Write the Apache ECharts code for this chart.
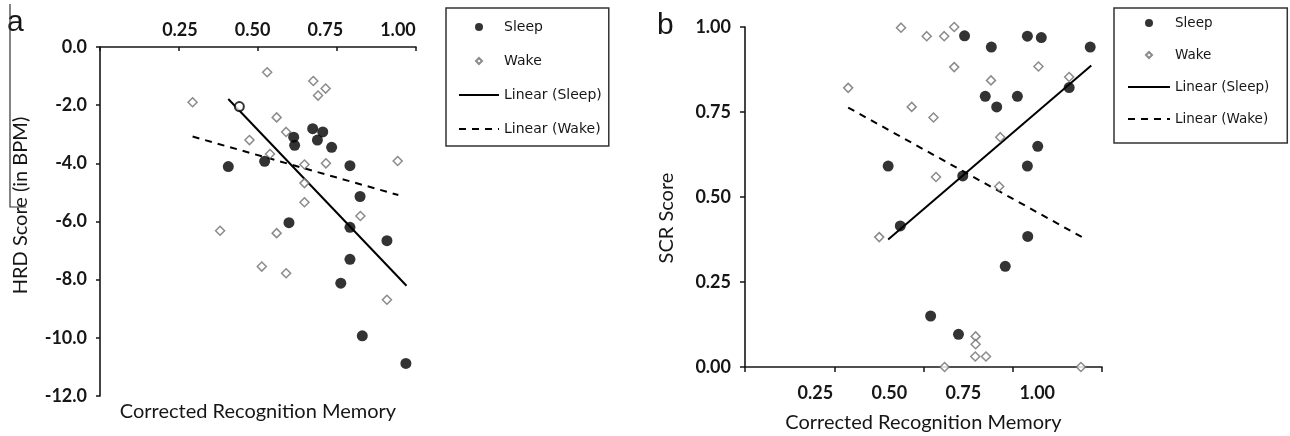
<!DOCTYPE html>
<html>
<head>
<meta charset="utf-8">
<script src="https://cdn.jsdelivr.net/npm/echarts@6/dist/echarts.min.js"></script>
<style>
  html, body { margin: 0; padding: 0; background: #fff; }
  #chart { width: 1290px; height: 436px; }
</style>
</head>
<body>
<div id="chart"></div>
<script>
// Panel a: corrected recognition memory vs HRD score
const sleepA = [
    [0.406, -4.11], [0.521, -3.93], [0.613, -3.10], [0.616, -3.38], [0.673, -2.81],
    [0.705, -2.92], [0.688, -3.20], [0.733, -3.45], [0.791, -4.08], [0.823, -5.14],
    [0.598, -6.04], [0.791, -6.20], [0.908, -6.66], [0.791, -7.30], [0.762, -8.12],
    [0.830, -9.93], [0.968, -10.88]
];
const openA = [[0.441, -2.05]];
const wakeA = [
    [0.293, -1.90], [0.529, -0.87], [0.675, -1.17], [0.714, -1.43], [0.690, -1.67],
    [0.559, -2.42], [0.589, -2.92], [0.473, -3.20], [0.538, -3.68], [0.647, -4.04],
    [0.715, -4.00], [0.942, -3.92], [0.647, -4.68], [0.647, -5.34], [0.824, -5.81],
    [0.380, -6.32], [0.559, -6.40], [0.512, -7.55], [0.589, -7.78], [0.908, -8.69]
];
const sleepFitA = [[0.406, -1.79], [0.970, -8.21]];
const wakeFitA = [[0.293, -3.08], [0.944, -5.09]];

// Panel b: corrected recognition memory vs SCR score
const sleepB = [
    [0.401, 0.591], [0.615, 0.974], [0.690, 0.941], [0.791, 0.973], [0.830, 0.969],
    [0.967, 0.941], [0.908, 0.822], [0.673, 0.796], [0.705, 0.765], [0.763, 0.796],
    [0.820, 0.649], [0.791, 0.591], [0.610, 0.562], [0.435, 0.415], [0.792, 0.384],
    [0.729, 0.296], [0.520, 0.150], [0.598, 0.096]
];
const wakeB = [
    [0.289, 0.821], [0.437, 0.998], [0.509, 0.973], [0.558, 0.973], [0.586, 1.000],
    [0.586, 0.882], [0.689, 0.843], [0.822, 0.884], [0.908, 0.853], [0.467, 0.765],
    [0.528, 0.734], [0.715, 0.676], [0.535, 0.559], [0.712, 0.531], [0.376, 0.382],
    [0.646, 0.090], [0.646, 0.067], [0.645, 0.031], [0.675, 0.031], [0.559, 0.000],
    [0.941, 0.000]
];
const sleepFitB = [[0.401, 0.375], [0.970, 0.887]];
const wakeFitB = [[0.289, 0.763], [0.944, 0.382]];

// tick labels as printed (they sit off the tick marks in the original figure)
const xLabelValues = [0.25, 0.5, 0.75, 1.0];
const legendNames = ['Sleep', 'Wake', 'Linear (Sleep)', 'Linear (Wake)'];

const ink = '#161616';
const labelFont = 'Lato';
const tickLabel = {color: ink, fontFamily: labelFont, fontWeight: 'bold', fontSize: 18};
const axisLine = {show: true, onZero: false, lineStyle: {color: ink, width: 1.6}};

const chart = echarts.init(document.getElementById('chart'));

function sleepSeries(data, idx) {
    return {
        name: 'Sleep', type: 'scatter', data,
        xAxisIndex: idx * 2, yAxisIndex: idx,
        symbol: 'circle', symbolSize: 11,
        itemStyle: {color: '#000'}, z: 4
    };
}
function wakeSeries(data, idx) {
    return {
        name: 'Wake', type: 'scatter', data,
        xAxisIndex: idx * 2, yAxisIndex: idx,
        symbol: 'diamond', symbolSize: 9,
        itemStyle: {color: '#fff', borderColor: '#6e6e6e', borderWidth: 1.5}, z: 3
    };
}
function fitSeries(name, data, idx, dashed) {
    return {
        name, type: 'line', data,
        xAxisIndex: idx * 2, yAxisIndex: idx,
        symbol: 'none', silent: true,
        itemStyle: {color: '#000', opacity: 0},
        lineStyle: {color: '#000', width: 2, type: dashed ? [7, 6] : 'solid'}, z: 2
    };
}

// legend entries: small diamond inside a full-width box so it is not stretched,
// trend lines show only their line
const smallDiamond = 'path://M0,0L0,0M40,8L40,8M20,1L23,4L20,7L17,4Z';
const legendData = legendNames.map(name => {
    if (name.startsWith('Linear')) return {name, itemStyle: {opacity: 0}};
    if (name === 'Wake') return {name, icon: smallDiamond};
    return {name, icon: 'circle'};
});

const legendBase = {
    orient: 'vertical',
    data: legendData,
    itemHeight: 8,
    symbolKeepAspect: true,
    borderColor: '#333',
    borderWidth: 1.5,
    selectedMode: false
};

chart.setOption({
    animation: false,
    backgroundColor: '#fff',
    grid: [
        {left: 100, top: 47, width: 316, height: 349, outerBoundsMode: 'none'},
        {left: 745, top: 27, width: 357, height: 340, outerBoundsMode: 'none'}
    ],
    legend: [
        Object.assign({}, legendBase, {
            left: 446, top: 8, itemWidth: 40, itemGap: 20,
            padding: [12, 7, 10, 12],
            textStyle: {color: ink, fontFamily: 'DejaVu Sans', fontSize: 14}
        }),
        Object.assign({}, legendBase, {
            left: 1114, top: 8, itemWidth: 42, itemGap: 18,
            padding: [8, 18, 17, 13],
            textStyle: {color: ink, fontFamily: 'DejaVu Sans', fontSize: 13.5}
        })
    ],
    xAxis: [
        // panel a: ticks on top
        {
            gridIndex: 0, type: 'value', position: 'top', min: 0, max: 1, interval: 0.25,
            axisLine, axisTick: {inside: true, length: 4, lineStyle: {color: ink, width: 1.5}},
            axisLabel: {show: false}, splitLine: {show: false}
        },
        {
            gridIndex: 0, type: 'value', position: 'top', min: -0.025, max: 1.062,
            axisLine: {show: false}, axisTick: {show: false}, splitLine: {show: false},
            axisLabel: Object.assign({customValues: xLabelValues, margin: 8,
                formatter: v => v.toFixed(2)}, tickLabel)
        },
        // panel b: ticks at bottom
        {
            gridIndex: 1, type: 'value', position: 'bottom', min: 0, max: 1, interval: 0.25,
            axisLine, axisTick: {length: 5, lineStyle: {color: ink, width: 1.5}},
            axisLabel: {show: false}, splitLine: {show: false}
        },
        {
            gridIndex: 1, type: 'value', position: 'bottom', min: 0.012, max: 1.219,
            axisLine: {show: false}, axisTick: {show: false}, splitLine: {show: false},
            axisLabel: Object.assign({customValues: xLabelValues, margin: 17,
                formatter: v => v.toFixed(2)}, tickLabel),
            name: 'Corrected Recognition Memory', nameLocation: 'middle', nameGap: 46,
            nameTextStyle: {color: ink, fontFamily: labelFont, fontSize: 20}
        }
    ],
    yAxis: [
        {
            gridIndex: 0, type: 'value', min: -12, max: 0, interval: 2,
            axisLine, axisTick: {length: 4, lineStyle: {color: ink, width: 1.5}},
            axisLabel: Object.assign({margin: 13, formatter: v => v.toFixed(1)}, tickLabel),
            splitLine: {show: false},
            name: 'HRD Score (in BPM)', nameLocation: 'middle', nameGap: 69, nameRotate: 90,
            nameTextStyle: {color: ink, fontFamily: labelFont, fontSize: 20, padding: [0, 0, 0, 32]}
        },
        {
            gridIndex: 1, type: 'value', min: 0, max: 1, interval: 0.25,
            axisLine, axisTick: {length: 5, lineStyle: {color: ink, width: 1.5}},
            axisLabel: Object.assign({margin: 14, formatter: v => v.toFixed(2)}, tickLabel),
            splitLine: {show: false},
            name: 'SCR Score', nameLocation: 'middle', nameGap: 68, nameRotate: 90,
            nameTextStyle: {color: ink, fontFamily: labelFont, fontSize: 20, padding: [0, 42, 0, 0]}
        }
    ],
    graphic: [
        {type: 'text', left: 7, top: 8, style: {text: 'a', font: '30px "Liberation Sans"', fill: ink}},
        {type: 'text', left: 657, top: 11, style: {text: 'b', font: '30px "Liberation Sans"', fill: ink}},
        {type: 'text', x: 258, y: 412, style: {
            text: 'Corrected Recognition Memory', font: '20px Lato', fill: ink,
            textAlign: 'center', textVerticalAlign: 'middle'}},
        {type: 'polyline', shape: {points: [[10, 4], [10, 207], [26, 207]]},
            style: {stroke: '#333', lineWidth: 1.2, fill: null}}
    ],
    series: [
        fitSeries('Linear (Sleep)', sleepFitA, 0, false),
        fitSeries('Linear (Wake)', wakeFitA, 0, true),
        sleepSeries(sleepA, 0),
        {
            name: 'Sleep', type: 'scatter', data: openA, xAxisIndex: 0, yAxisIndex: 0,
            symbol: 'circle', symbolSize: 9,
            itemStyle: {color: '#fff', borderColor: '#000', borderWidth: 2}, z: 4
        },
        wakeSeries(wakeA, 0),
        fitSeries('Linear (Sleep)', sleepFitB, 1, false),
        fitSeries('Linear (Wake)', wakeFitB, 1, true),
        sleepSeries(sleepB, 1),
        wakeSeries(wakeB, 1)
    ]
});
</script>
</body>
</html>
